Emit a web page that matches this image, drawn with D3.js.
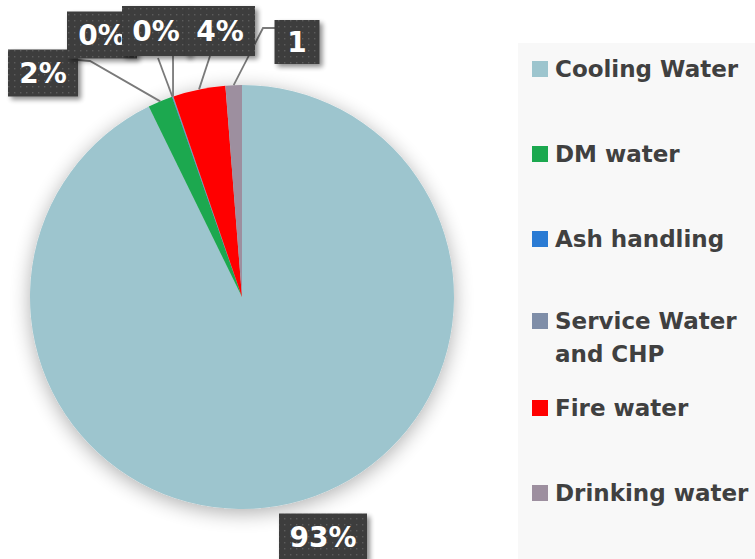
<!DOCTYPE html>
<html>
<head>
<meta charset="utf-8">
<script src="https://cdn.jsdelivr.net/npm/d3@7"></script>
<style>
  html, body { margin: 0; padding: 0; background: #ffffff; }
  svg { display: block; }
</style>
</head>
<body>
<svg id="chart" width="755" height="559"></svg>
<script>
// Water consumption split by use
const categories = ["Cooling Water", "DM water", "Ash handling", "Service Water and CHP", "Fire water", "Drinking water"];
const values = [92.8, 1.9, 0.05, 0.05, 4.0, 1.25];
const colors = ["#9dc5ce", "#1ba84f", "#2a7bd4", "#7f8ea8", "#ff0000", "#9d8f9f"];

// Data label boxes (centre, size) and the leader-line start points for each slice
const labelBoxes = [
  { cx: 323, cy: 537, w: 88, h: 47 },
  { cx: 43,  cy: 73,  w: 70, h: 47 },
  { cx: 102, cy: 35,  w: 70, h: 47 },
  { cx: 156, cy: 31,  w: 68, h: 50 },
  { cx: 220, cy: 31,  w: 70, h: 50 },
  { cx: 297, cy: 42,  w: 45, h: 44 }
];
const leaderStarts = [
  null,
  [[78, 60], [90, 61]],
  [[158, 58]],
  [[173, 56]],
  [[210, 56]],
  [[275, 28], [263, 28]]
];

const svg = d3.select("#chart");
const W = 755, H = 559;
const cx = 242, cy = 297, R = 212;

const defs = svg.append("defs");

// soft glow under the pie
const glow = defs.append("filter").attr("id", "pieGlow")
  .attr("x", "-30%").attr("y", "-30%").attr("width", "160%").attr("height", "160%");
glow.append("feGaussianBlur").attr("in", "SourceAlpha").attr("stdDeviation", 10).attr("result", "b");
glow.append("feOffset").attr("in", "b").attr("dx", 0).attr("dy", 4).attr("result", "o");
glow.append("feComponentTransfer").attr("in", "o").attr("result", "s")
  .append("feFuncA").attr("type", "linear").attr("slope", 0.32);
const gm = glow.append("feMerge");
gm.append("feMergeNode").attr("in", "s");
gm.append("feMergeNode").attr("in", "SourceGraphic");

// shadow for label boxes
const bs = defs.append("filter").attr("id", "boxShadow")
  .attr("x", "-20%").attr("y", "-20%").attr("width", "150%").attr("height", "150%");
bs.append("feGaussianBlur").attr("in", "SourceAlpha").attr("stdDeviation", 2.5).attr("result", "b");
bs.append("feOffset").attr("in", "b").attr("dx", 3).attr("dy", 3).attr("result", "o");
bs.append("feComponentTransfer").attr("in", "o").attr("result", "s")
  .append("feFuncA").attr("type", "linear").attr("slope", 0.45);
const bm = bs.append("feMerge");
bm.append("feMergeNode").attr("in", "s");
bm.append("feMergeNode").attr("in", "SourceGraphic");

// dotted texture for label boxes
const pat = defs.append("pattern").attr("id", "dots")
  .attr("width", 6).attr("height", 6).attr("patternUnits", "userSpaceOnUse");
pat.append("rect").attr("width", 6).attr("height", 6).attr("fill", "#3d3d3d");
pat.append("rect").attr("x", 2).attr("y", 2).attr("width", 1.4).attr("height", 1.4).attr("fill", "#5c5c5c");

svg.append("rect").attr("width", W).attr("height", H).attr("fill", "#ffffff");

// legend panel
svg.append("rect").attr("x", 518).attr("y", 43).attr("width", W - 518).attr("height", H - 43)
  .attr("fill", "#f8f8f8");

const total = d3.sum(values);
const data = categories.map((c, i) => ({ name: c, value: values[i], color: colors[i], i }));

const pie = d3.pie().value(d => d.value).sort(null);
const arcs = pie(data);
const arc = d3.arc().innerRadius(0).outerRadius(R);

const pieG = svg.append("g").attr("transform", `translate(${cx},${cy})`).attr("filter", "url(#pieGlow)");
pieG.selectAll("path").data(arcs).join("path")
  .attr("d", arc)
  .attr("fill", d => d.data.color);

// leader lines: from label box to the slice's outer edge at its mid-angle
const edgePoint = a => {
  const m = (a.startAngle + a.endAngle) / 2;
  return [cx + R * Math.sin(m), cy - R * Math.cos(m)];
};
const line = d3.line();
svg.append("g").selectAll("path")
  .data(arcs.filter(a => leaderStarts[a.index]))
  .join("path")
  .attr("d", a => line([...leaderStarts[a.index], edgePoint(a)]))
  .attr("fill", "none")
  .attr("stroke", "#7a7a7a")
  .attr("stroke-width", 1.8);

// data labels
const fmt = d3.format(".0%");
const labelFont = "'DejaVu Sans', sans-serif";
const labelOrder = [1, 2, 3, 4, 5, 0];
const labelsG = svg.append("g");
labelOrder.forEach(idx => {
  const a = arcs[idx];
  const b = labelBoxes[idx];
  const text = fmt(a.data.value / total);
  const x0 = b.cx - b.w / 2, y0 = b.cy - b.h / 2;
  const g = labelsG.append("g");
  defs.append("clipPath").attr("id", "clip" + idx)
    .append("rect").attr("x", x0).attr("y", y0).attr("width", b.w).attr("height", b.h);
  g.append("rect").attr("x", x0).attr("y", y0).attr("width", b.w).attr("height", b.h)
    .attr("fill", "url(#dots)").attr("filter", "url(#boxShadow)");
  const t = g.append("text")
    .attr("clip-path", `url(#clip${idx})`)
    .attr("text-anchor", "middle")
    .attr("font-family", labelFont)
    .attr("font-weight", "bold")
    .attr("font-size", 28)
    .attr("fill", "#ffffff");
  t.append("tspan").attr("x", b.cx).attr("y", b.cy + 10).text(text);
  // wrap the percent sign onto a second line when the box is too narrow
  if (t.node().getComputedTextLength() > b.w - 6) {
    t.selectAll("tspan").remove();
    t.append("tspan").attr("x", b.cx).attr("y", b.cy + 10).text(text.slice(0, -1));
    t.append("tspan").attr("x", b.cx).attr("dy", 34).text("%");
  }
});

// legend
const legendSlots = [61, 146, 231, 313, 400, 485];
const legendFont = "'DejaVu Sans', sans-serif";
const maxW = 196;
const lg = svg.append("g");
data.forEach((d, i) => {
  const top = legendSlots[i];
  lg.append("rect").attr("x", 532).attr("y", top).attr("width", 16).attr("height", 16).attr("fill", d.color);
  const t = lg.append("text")
    .attr("font-family", legendFont)
    .attr("font-weight", "bold")
    .attr("font-size", 23)
    .attr("fill", "#404040");
  const words = d.name.split(" ");
  let lineNo = 0;
  let ts = t.append("tspan").attr("x", 555).attr("y", top + 16);
  let cur = [];
  words.forEach(w => {
    cur.push(w);
    ts.text(cur.join(" "));
    if (ts.node().getComputedTextLength() > maxW && cur.length > 1) {
      cur.pop();
      ts.text(cur.join(" "));
      cur = [w];
      lineNo++;
      ts = t.append("tspan").attr("x", 555).attr("y", top + 16 + lineNo * 33).text(w);
    }
  });
});
</script>
</body>
</html>
